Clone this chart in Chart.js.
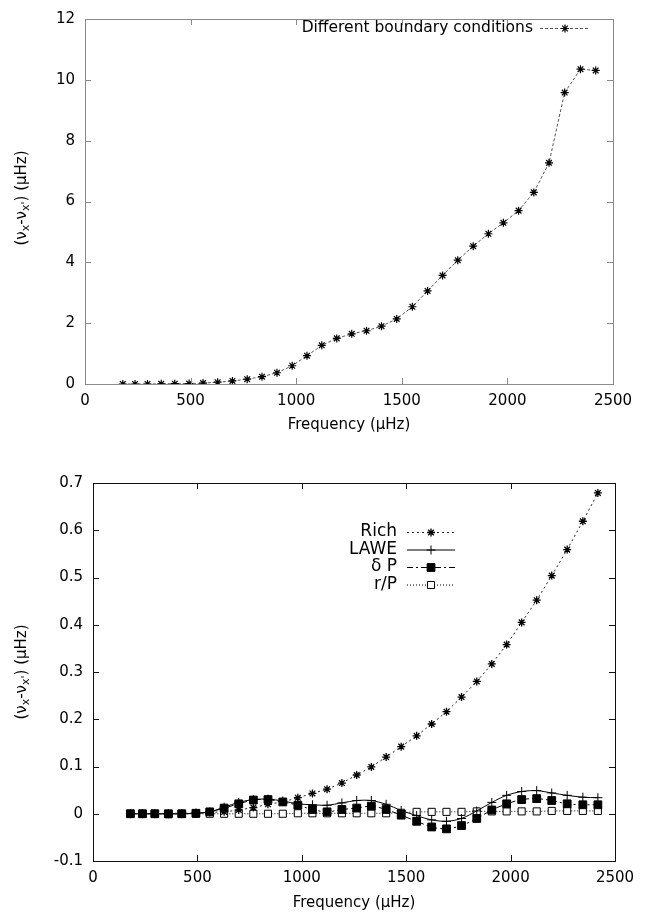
<!DOCTYPE html>
<html><head><meta charset="utf-8">
<script src="https://cdn.jsdelivr.net/npm/chart.js@4/dist/chart.umd.min.js"></script>
<style>
html,body{margin:0;padding:0;background:#fff;width:646px;height:916px;overflow:hidden}
#w1{position:absolute;left:0;top:0;width:646px;height:440px}
#w2{position:absolute;left:0;top:440px;width:646px;height:476px}
</style></head><body>
<div id="w1"><canvas id="c1"></canvas></div>
<div id="w2"><canvas id="c2"></canvas></div>
<script>
// ---- data ----
const freq = [179, 237, 296, 361, 425, 493, 559, 628, 698, 768, 838, 909, 981, 1051, 1121, 1192, 1263, 1333, 1404, 1476, 1550, 1622, 1693, 1765, 1838, 1910, 1981, 2053, 2125, 2197, 2271, 2346, 2418];
const boundaryDiff = [0, 0, 0, 0.005, 0.01, 0.015, 0.03, 0.06, 0.1, 0.16, 0.24, 0.37, 0.6, 0.93, 1.27, 1.5, 1.65, 1.75, 1.9, 2.14, 2.54, 3.06, 3.57, 4.07, 4.53, 4.94, 5.3, 5.7, 6.3, 7.27, 9.58, 10.35, 10.31];
const rich = [0, 0, 0, 0.001, 0.001, 0.002, 0.003, 0.004, 0.008, 0.013, 0.02, 0.025, 0.034, 0.043, 0.052, 0.065, 0.082, 0.099, 0.12, 0.142, 0.165, 0.19, 0.216, 0.247, 0.28, 0.317, 0.358, 0.405, 0.452, 0.504, 0.559, 0.619, 0.679];
const lawe = [0, 0, 0, 0, 0, 0.001, 0.004, 0.014, 0.024, 0.030, 0.031, 0.027, 0.021, 0.019, 0.018, 0.023, 0.028, 0.028, 0.020, 0.007, -0.004, -0.013, -0.016, -0.010, 0.006, 0.024, 0.039, 0.047, 0.049, 0.044, 0.039, 0.035, 0.034];
const deltaP = [0, 0, 0, 0, 0, 0.001, 0.004, 0.012, 0.021, 0.029, 0.030, 0.025, 0.018, 0.009, 0.004, 0.009, 0.012, 0.016, 0.009, -0.003, -0.016, -0.028, -0.032, -0.025, -0.010, 0.008, 0.021, 0.030, 0.032, 0.028, 0.021, 0.019, 0.019];
const rOverP = [0, 0, 0, -0.001, 0, 0, 0, 0, 0, 0, 0, 0, 0.001, 0.001, 0.001, 0.001, 0.001, 0.001, 0.001, 0.002, 0.004, 0.004, 0.004, 0.004, 0.005, 0.005, 0.005, 0.005, 0.005, 0.006, 0.006, 0.006, 0.006];
const xTicks = [0, 500, 1000, 1500, 2000, 2500];
const xTickLabels = ['0', '500', '1000', '1500', '2000', '2500'];
const yTicksTop = [0, 2, 4, 6, 8, 10, 12];
const yTickLabelsTop = ['0', '2', '4', '6', '8', '10', '12'];
const yTicksBottom = [-0.1, 0, 0.1, 0.2, 0.3, 0.4, 0.5, 0.6, 0.7];
const yTickLabelsBottom = ['-0.1', '0', '0.1', '0.2', '0.3', '0.4', '0.5', '0.6', '0.7'];
const seriesTop = ['Different boundary conditions'];
const seriesBottom = ['Rich', 'LAWE', 'δ P', 'r/P'];
const xTitle = 'Frequency (µHz)';

const FONT = 'DejaVu Sans';

const pts = (ys) => freq.map((f, i) => ({x: f, y: ys[i]}));

// ---- custom gnuplot-like frame, ticks, legend, y title ----
const gnu = {
  id: 'gnu',
  afterDraw(chart, args, o) {
    const ctx = chart.ctx, a = chart.chartArea;
    const xs = chart.scales.x, ys = chart.scales.y;
    ctx.save();
    ctx.strokeStyle = o.frameColor; ctx.lineWidth = 1; ctx.setLineDash([]);
    ctx.strokeRect(Math.round(a.left) + 0.5, Math.round(a.top) + 0.5, Math.round(a.right - a.left), Math.round(a.bottom - a.top));
    ctx.beginPath();
    xs.ticks.forEach(t => {
      const px = Math.round(xs.getPixelForValue(t.value)) + 0.5;
      ctx.moveTo(px, a.bottom); ctx.lineTo(px, a.bottom - 6);
      ctx.moveTo(px, a.top); ctx.lineTo(px, a.top + 6);
    });
    ys.ticks.forEach(t => {
      const py = Math.round(ys.getPixelForValue(t.value)) + 0.5;
      ctx.moveTo(a.left, py); ctx.lineTo(a.left + 6, py);
      ctx.moveTo(a.right, py); ctx.lineTo(a.right - 6, py);
    });
    ctx.stroke();
    // legend
    const L = o.legend;
    chart.data.datasets.forEach((ds, i) => {
      const y = L.y + i * L.dy;
      ctx.font = L.size + 'px "' + FONT + '"';
      ctx.fillStyle = '#000'; ctx.textAlign = 'right'; ctx.textBaseline = 'middle';
      ctx.fillText(ds.label, L.textRight, y);
      ctx.strokeStyle = ds.borderColor; ctx.lineWidth = ds.borderWidth;
      ctx.setLineDash(ds.borderDash || []);
      ctx.beginPath(); ctx.moveTo(L.x1, y + 0.5); ctx.lineTo(L.x2, y + 0.5); ctx.stroke();
      ctx.setLineDash([]);
      ctx.strokeStyle = ds.pointBorderColor; ctx.fillStyle = ds.pointBackgroundColor;
      ctx.lineWidth = ds.pointBorderWidth;
      Chart.helpers.drawPoint(ctx, {pointStyle: ds.pointStyle, radius: ds.pointRadius, borderWidth: ds.pointBorderWidth, rotation: 0}, L.mx, y + 0.5);
    });
    // y title with subscripts
    const T = o.ytitle;
    ctx.translate(T.x, T.y); ctx.rotate(-Math.PI / 2);
    ctx.fillStyle = '#000'; ctx.textAlign = 'left'; ctx.textBaseline = 'middle';
    const big = T.size + 'px "' + FONT + '"', small = Math.round(T.size * 0.72) + 'px "' + FONT + '"';
    const parts = [['(ν', big, 0], ['x', small, 4], ['-ν', big, 0], ["x'", small, 4], [') (µHz)', big, 0]];
    let w = 0;
    parts.forEach(p => { ctx.font = p[1]; w += ctx.measureText(p[0]).width; });
    let cx = -w / 2;
    parts.forEach(p => { ctx.font = p[1]; ctx.fillText(p[0], cx, p[2]); cx += ctx.measureText(p[0]).width; });
    ctx.restore();
  }
};

function makeOpts(yTicks, yLabels, ymin, ymax, pad, xh, yw, titlePadBottom, plug) {
  return {
    responsive: true, maintainAspectRatio: false, animation: false,
    layout: {padding: pad},
    plugins: {legend: {display: false}, tooltip: {enabled: false}, gnu: plug},
    scales: {
      x: {
        type: 'linear', min: 0, max: 2500,
        grid: {display: false, drawTicks: false}, border: {display: false},
        afterBuildTicks: s => { s.ticks = xTicks.map(v => ({value: v})); },
        afterFit: s => { s.height = xh; },
        ticks: {padding: 8, color: '#000', font: {family: FONT, size: 15}, maxRotation: 0,
          callback: v => xTickLabels[xTicks.indexOf(v)]},
        title: {display: true, text: xTitle, color: '#000', font: {family: FONT, size: 15}, padding: {top: 0, bottom: titlePadBottom}}
      },
      y: {
        type: 'linear', min: ymin, max: ymax,
        grid: {display: false, drawTicks: false}, border: {display: false},
        afterBuildTicks: s => { s.ticks = yTicks.map(v => ({value: v})); },
        afterFit: s => { s.width = yw; },
        ticks: {padding: 10, color: '#000', font: {family: FONT, size: 15},
          callback: v => { const i = yTicks.findIndex(t => Math.abs(t - v) < 1e-9); return yLabels[i]; }}
      }
    }
  };
}

new Chart(document.getElementById('c1'), {
  type: 'line',
  plugins: [gnu],
  data: {datasets: [{
    label: seriesTop[0], data: pts(boundaryDiff),
    borderColor: '#555', borderWidth: 1, borderDash: [3, 2], tension: 0,
    pointStyle: 'star', pointRadius: 4, pointBorderColor: '#000', pointBackgroundColor: '#000', pointBorderWidth: 1.2
  }]},
  options: makeOpts(yTicksTop, yTickLabelsTop, 0, 12, {left: 0, right: 33, top: 13, bottom: 0}, 56, 85, 6,
    {frameColor: '#8a8a8a', legend: {y: 28, dy: 0, textRight: 533, x1: 540, x2: 590, mx: 565, size: 15.5}, ytitle: {x: 22, y: 198, size: 15}})
});

new Chart(document.getElementById('c2'), {
  type: 'line',
  plugins: [gnu],
  data: {datasets: [
    {label: seriesBottom[0], data: pts(rich), borderColor: '#222', borderWidth: 1, borderDash: [2, 3], tension: 0,
      pointStyle: 'star', pointRadius: 4, pointBorderColor: '#000', pointBackgroundColor: '#000', pointBorderWidth: 1.3},
    {label: seriesBottom[1], data: pts(lawe), borderColor: '#000', borderWidth: 1, borderDash: [], tension: 0.3,
      pointStyle: 'cross', pointRadius: 4.5, pointBorderColor: '#000', pointBackgroundColor: '#000', pointBorderWidth: 1},
    {label: seriesBottom[2], data: pts(deltaP), borderColor: '#000', borderWidth: 1, borderDash: [6, 3, 2, 3], tension: 0.3,
      pointStyle: 'rect', pointRadius: 5.5, pointBorderColor: '#000', pointBackgroundColor: '#000', pointBorderWidth: 1},
    {label: seriesBottom[3], data: pts(rOverP), borderColor: '#000', borderWidth: 1, borderDash: [1, 2], tension: 0,
      pointStyle: 'rect', pointRadius: 5, pointBorderColor: '#000', pointBackgroundColor: '#fff', pointBorderWidth: 1}
  ]},
  options: makeOpts(yTicksBottom, yTickLabelsBottom, -0.1, 0.7, {left: 0, right: 31, top: 43, bottom: 0}, 55, 93, 4,
    {frameColor: '#111', legend: {y: 92, dy: 17.5, textRight: 397, x1: 407, x2: 455, mx: 431, size: 17}, ytitle: {x: 22, y: 232, size: 15}})
});
</script>
</body></html>
